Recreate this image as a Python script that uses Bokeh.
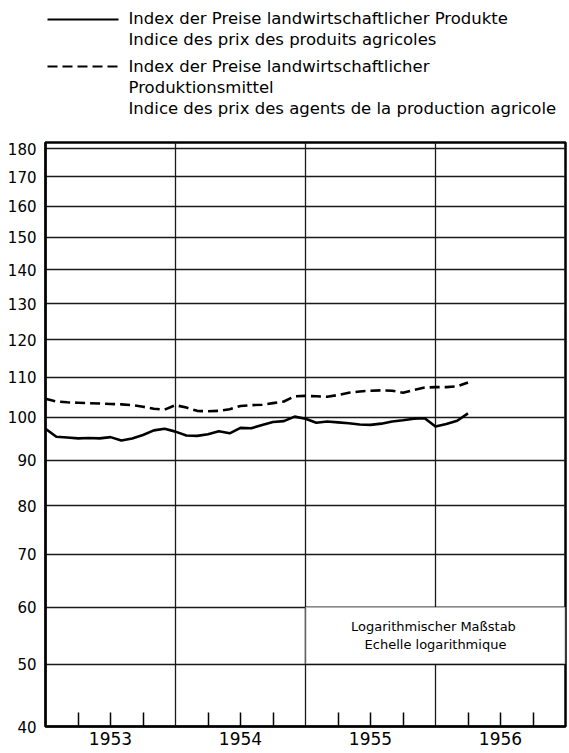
from math import sqrt
from bokeh.plotting import figure
from bokeh.models import (Range1d, FixedTicker, CustomJSTickFormatter, BoxAnnotation,
                          Label, ColumnDataSource)
from bokeh.layouts import column
from bokeh.embed import file_html
from bokeh.resources import INLINE
from bokeh.core.properties import value

# ---------------- data ----------------
# month index: 0 = January 1953
months = list(range(40))
# Index der Preise landwirtschaftlicher Produkte
products = [97.3, 95.4, 95.2, 95.0, 95.1, 95.0, 95.3, 94.5, 95.0, 95.8,
            96.9, 97.3, 96.6, 95.7, 95.6, 96.0, 96.7, 96.2, 97.5, 97.4,
            98.2, 98.9, 99.1, 100.2, 99.7, 98.7, 99.0, 98.8, 98.6, 98.3,
            98.2, 98.5, 99.0, 99.3, 99.7, 99.8, 97.8, 98.4, 99.2, 101.0]
# Index der Preise landwirtschaftlicher Produktionsmittel
means = [104.6, 103.9, 103.7, 103.6, 103.5, 103.4, 103.3, 103.2, 103.0, 102.6,
         102.1, 101.9, 103.0, 102.4, 101.6, 101.5, 101.6, 102.0, 102.8, 103.0,
         103.1, 103.5, 103.9, 105.2, 105.3, 105.2, 105.1, 105.5, 106.1, 106.4,
         106.6, 106.7, 106.6, 106.1, 106.8, 107.4, 107.5, 107.5, 107.7, 108.7]
y_ticks = [40, 50, 60, 70, 80, 90, 100, 110, 120, 130, 140, 150, 160, 170, 180]
year_labels = ["1953", "1954", "1955", "1956"]
legend_products = ["Index der Preise landwirtschaftlicher Produkte",
                   "Indice des prix des produits agricoles"]
legend_means = ["Index der Preise landwirtschaftlicher",
                "Produktionsmittel",
                "Indice des prix des agents de la production agricole"]
scale_note = "Logarithmischer  Maßstab\nEchelle logarithmique"

# the printed grid follows a logarithmic scale of (value + OFFSET)
OFFSET = 63
FONT = "DejaVu Sans"

W = 567
LH = 132          # legend panel height
MH = 619          # chart panel height
FL, FR = 45, 565  # frame left / right (px); both panels share them

# ---------------- legend panel (pixel coordinates) ----------------
leg = figure(width=W, height=LH, x_range=Range1d(FL, FR), y_range=Range1d(LH, 0),
             output_backend="svg", toolbar_location=None,
             x_axis_location=None, y_axis_location=None, min_border=0,
             min_border_left=FL, min_border_right=W - FR,
             min_border_top=0, min_border_bottom=0)
leg.grid.visible = False
leg.outline_line_color = None

leg.line([47, 118], [19, 19], line_color="black", line_width=2.2)
leg.line([47, 118], [66, 66], line_color="black", line_width=2.2, line_dash="10 5")
leg_texts = legend_products + legend_means
leg.text(x=[128] * len(leg_texts), y=[18, 39, 66, 87, 108], text=leg_texts,
         text_font=value(FONT), text_font_size="16.5px", text_color="black",
         text_baseline="middle", text_align="left")

# ---------------- main chart ----------------
src = ColumnDataSource(dict(
    m=months,
    prod=[v + OFFSET for v in products],
    mean=[v + OFFSET for v in means],
))

p = figure(width=W, height=MH, x_range=Range1d(0, 48),
           y_range=Range1d(40 + OFFSET, 182.2 + OFFSET), y_axis_type="log",
           output_backend="svg", toolbar_location=None,
           min_border_left=FL, min_border_right=W - FR, min_border_top=142 - LH,
           min_border_bottom=25)
p.background_fill_color = "white"
p.border_fill_color = "white"
p.outline_line_color = "black"
p.outline_line_width = 2.5

# y axis
ytk = FixedTicker(ticks=[v + OFFSET for v in y_ticks])
p.yaxis.ticker = ytk
p.yaxis.formatter = CustomJSTickFormatter(args=dict(off=OFFSET),
                                          code="return String(Math.round(tick - off));")
p.yaxis.major_tick_in = 0
p.yaxis.major_tick_out = 0
p.yaxis.minor_tick_in = 0
p.yaxis.minor_tick_out = 0
p.yaxis.axis_line_width = 2
p.yaxis.axis_line_color = "black"
p.yaxis.major_label_standoff = 9
p.yaxis.major_label_text_font = FONT
p.yaxis.major_label_text_font_size = "15px"
p.yaxis.major_label_text_color = "black"

# x axis: quarter ticks inside, year labels in the middle of each year
p.xaxis.ticker = FixedTicker(ticks=[q + 12 * y for y in range(4) for q in (3, 6, 9)])
p.xaxis.formatter = CustomJSTickFormatter(args=dict(labels=year_labels), code="""
const i = Math.round(tick);
return (i % 12 == 6) ? labels[(i - 6) / 12] : "";
""")
p.xaxis.major_tick_in = 14
p.xaxis.major_tick_out = 0
p.xaxis.major_tick_line_width = 1.5
p.xaxis.major_tick_line_color = "black"
p.xaxis.minor_tick_in = 0
p.xaxis.minor_tick_out = 0
p.xaxis.axis_line_width = 2
p.xaxis.axis_line_color = "black"
p.xaxis.major_label_standoff = 5
p.xaxis.major_label_text_font = FONT
p.xaxis.major_label_text_font_size = "17px"
p.xaxis.major_label_text_color = "black"

# grid
p.ygrid.ticker = ytk
p.ygrid.grid_line_color = "#1a1a1a"
p.ygrid.grid_line_width = 1.3
p.xgrid.ticker = FixedTicker(ticks=[12, 24, 36])
p.xgrid.grid_line_color = "#1a1a1a"
p.xgrid.grid_line_width = 1.3

# series
p.line("m", "mean", source=src, line_color="black", line_width=2.6,
       line_dash="10 5", line_join="round")
p.line("m", "prod", source=src, line_color="black", line_width=2.6,
       line_join="round")

# scale note box
p.add_layout(BoxAnnotation(left=24, right=48, bottom=50 + OFFSET, top=60 + OFFSET,
                           fill_color="white", fill_alpha=1.0,
                           line_color="black", line_width=2))
p.add_layout(Label(x=36, y=sqrt((50 + OFFSET) * (60 + OFFSET)), text=scale_note,
                   text_align="center", text_baseline="middle",
                   text_font=FONT, text_font_size="13px", text_color="black"))

layout = column(leg, p, spacing=0)
open("out.html", "w").write(file_html(layout, INLINE))
